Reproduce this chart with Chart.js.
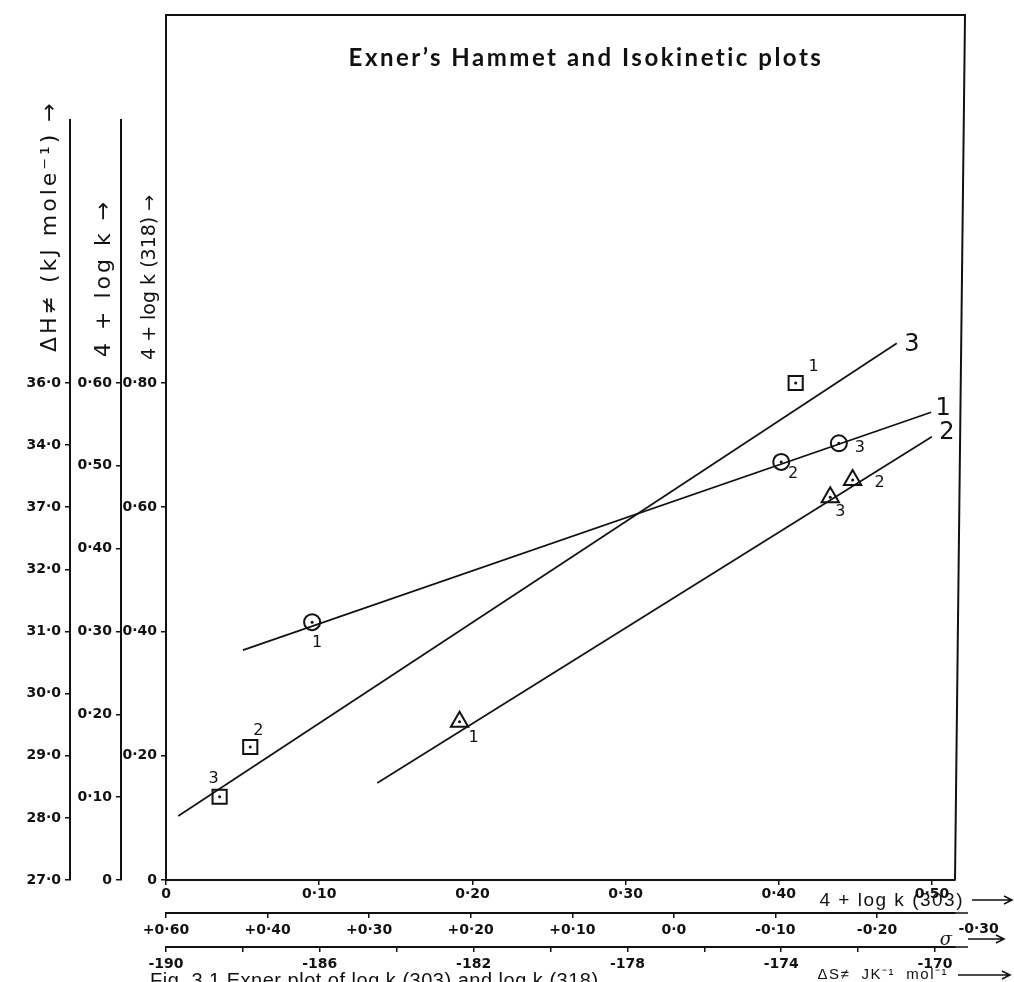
<!DOCTYPE html>
<html>
<head>
<meta charset="utf-8">
<script src="https://cdn.jsdelivr.net/npm/chart.js@4.4.1/dist/chart.umd.min.js"></script>
<style>
  html, body { margin: 0; padding: 0; background: #fff; }
  canvas { display: block; }
</style>
</head>
<body>
<canvas id="chart" width="1014" height="982"></canvas>
<script>
// Exner, Hammett and isokinetic plots, redrawn from a scanned hand-drawn figure

// circles: dH against dS (isokinetic)
const circle_ids = ["1", "2", "3"];
const circle_ds = [-186.2, -174.0, -172.5];
const circle_dh = [31.15, 33.73, 34.03];
const circle_fit_ds = [-188.0, -170.1];
const circle_fit_dh = [30.70, 34.53];

// squares: log k (318) against log k (303) (Exner)
const square_ids = ["1", "2", "3"];
const square_k303 = [0.411, 0.055, 0.035];
const square_k318 = [0.800, 0.214, 0.134];
const square_fit_k303 = [0.008, 0.477];
const square_fit_k318 = [0.103, 0.864];

// triangles: log k against sigma (Hammett)
const tri_ids = ["1", "2", "3"];
const tri_sigma = [0.211, -0.176, -0.154];
const tri_logk = [0.191, 0.483, 0.462];
const tri_fit_sigma = [0.292, -0.254];
const tri_fit_logk = [0.117, 0.535];

// tick values, and the labels as they are written on the figure
const k303_ticks = [0, 0.1, 0.2, 0.3, 0.4, 0.5];
const k303_labels = ["0", "0·10", "0·20", "0·30", "0·40", "0·50"];
const sigma_ticks = [0.5, 0.4, 0.3, 0.2, 0.1, 0, -0.1, -0.2];
const sigma_labels = ["+0·60", "+0·40", "+0·30", "+0·20", "+0·10", "0·0", "-0·10", "-0·20"];
const sigma_extra = -0.3;
const sigma_extra_label = "-0·30";
const ds_ticks = [-190, -188, -186, -184, -182, -180, -178, -176, -174, -172, -170];
const ds_labels = ["-190", "", "-186", "", "-182", "", "-178", "", "-174", "", "-170"];
const dh_ticks = [27, 28, 29, 30, 31, 32, 33, 34, 35];
const dh_labels = ["27·0", "28·0", "29·0", "30·0", "31·0", "32·0", "37·0", "34·0", "36·0"];
const logk_ticks = [0, 0.1, 0.2, 0.3, 0.4, 0.5, 0.6];
const logk_labels = ["0", "0·10", "0·20", "0·30", "0·40", "0·50", "0·60"];
const k318_ticks = [0, 0.2, 0.4, 0.6, 0.8];
const k318_labels = ["0", "0·20", "0·40", "0·60", "0·80"];

const ink = "#111";
const hand = { family: "DejaVu Sans", size: 14, weight: "bold" };

// pair two arrays into {x, y} points
function zip(xs, ys) {
  return xs.map((x, i) => ({ x: x, y: ys[i] }));
}

// an axis with fixed ticks and a fixed thickness, so the stacked axes land where the figure has them
function axis(pos, weight, min, max, values, labels, size, extra) {
  return Object.assign({
    type: "linear",
    position: pos,
    weight: weight,
    min: min,
    max: max,
    afterBuildTicks: (s) => { s.ticks = values.map((v) => ({ value: v })); },
    afterFit: (s) => { if (pos === "left") s.width = size; else s.height = size; },
    border: { display: true, color: ink, width: 2 },
    grid: { display: true, drawOnChartArea: false, color: ink, lineWidth: 1.5, tickLength: 5 },
    ticks: { autoSkip: false, maxRotation: 0, padding: 4, font: hand, color: ink,
             callback: (v, i) => labels[i] }
  }, extra || {});
}

function fit_line(data, x, y) {
  return { data: data, xAxisID: x, yAxisID: y, showLine: true, pointRadius: 0,
           borderColor: ink, borderWidth: 1.7 };
}

function markers(data, x, y, style, r, ids, offsets) {
  return { data: data, xAxisID: x, yAxisID: y, pointStyle: style, pointRadius: r,
           borderColor: ink, borderWidth: 2, backgroundColor: "rgba(0,0,0,0)",
           ids: ids, offsets: offsets };
}

function dots(data, x, y) {
  return { data: data, xAxisID: x, yAxisID: y, pointRadius: 1.5, borderWidth: 0,
           backgroundColor: ink };
}

// text with a bit of extra letter spacing, as the scan is wider than the fonts here
function spaced(ctx, text, x, y, font, gap) {
  ctx.font = font;
  ctx.letterSpacing = gap + "px";
  ctx.fillText(text, x, y);
  ctx.letterSpacing = "0px";
}

// rotated handwritten axis title, read bottom to top
function vtext(ctx, text, x, y, font, gap) {
  ctx.save();
  ctx.translate(x, y);
  ctx.rotate(-Math.PI / 2);
  ctx.textAlign = "left";
  ctx.textBaseline = "middle";
  spaced(ctx, text, 0, 0, font, gap);
  ctx.restore();
}

function arrow(ctx, x1, x2, y) {
  ctx.beginPath();
  ctx.moveTo(x1, y);
  ctx.lineTo(x2, y);
  ctx.moveTo(x2 - 8, y - 4);
  ctx.lineTo(x2, y);
  ctx.lineTo(x2 - 8, y + 4);
  ctx.stroke();
}

// substituent numbers next to each marker, and the line numbers at the line ends
const id_plugin = {
  id: "ids",
  afterDatasetsDraw(chart) {
    const ctx = chart.ctx;
    ctx.save();
    ctx.fillStyle = ink;
    ctx.textAlign = "center";
    ctx.textBaseline = "middle";
    chart.data.datasets.forEach((d, i) => {
      if (!d.ids && !d.end) return;
      const pts = chart.getDatasetMeta(i).data;
      if (d.ids) {
        ctx.font = "16px DejaVu Sans";
        pts.forEach((p, j) => ctx.fillText(d.ids[j], p.x + d.offsets[j][0], p.y + d.offsets[j][1]));
      }
      if (d.end) {
        const p = pts[pts.length - 1];
        ctx.font = "24px DejaVu Sans";
        ctx.fillText(d.end, p.x + d.end_off[0], p.y + d.end_off[1]);
      }
    });
    ctx.restore();
  }
};

// the frame above the plot, the title and the axis captions
const decor_plugin = {
  id: "decor",
  afterDraw(chart) {
    const { ctx, chartArea: a, scales } = chart;
    ctx.save();
    ctx.strokeStyle = ink;
    ctx.fillStyle = ink;
    ctx.lineWidth = 2;
    ctx.beginPath();
    ctx.moveTo(a.left, a.top);
    ctx.lineTo(a.left, 15);
    ctx.lineTo(a.right + 10, 15);
    ctx.lineTo(a.right, a.bottom);
    ctx.stroke();

    // sigma and dS lines run a little past the frame
    ctx.lineWidth = 1.5;
    ctx.beginPath();
    ctx.moveTo(a.right, scales.xs.top);
    ctx.lineTo(a.right + 13, scales.xs.top);
    ctx.moveTo(a.right, scales.xd.top);
    ctx.lineTo(a.right + 13, scales.xd.top);
    ctx.stroke();

    ctx.textAlign = "center";
    ctx.textBaseline = "middle";
    spaced(ctx, "Exner’s Hammet and Isokinetic plots", 586, 58, "bold 24px Lato", 2.5);

    vtext(ctx, "ΔH≠ (kJ mole⁻¹) →", 50, 352, "22px DejaVu Sans", 3);
    vtext(ctx, "4 + log k →", 104, 357, "22px DejaVu Sans", 3);
    vtext(ctx, "4 + log k (318) →", 150, 360, "19px DejaVu Sans", 0);

    ctx.textAlign = "right";
    spaced(ctx, "4 + log k (303)", 964, 901, "19px Liberation Sans", 1.5);
    arrow(ctx, 972, 1012, 900);

    spaced(ctx, "ΔS≠  JK⁻¹  mol⁻¹", 948, 975, "15px Liberation Sans", 1.5);
    arrow(ctx, 958, 1010, 975);

    ctx.textAlign = "center";
    ctx.font = "bold 14px DejaVu Sans";
    ctx.fillText(sigma_extra_label, scales.xs.getPixelForValue(sigma_extra), 929);
    ctx.font = "italic 18px DejaVu Serif";
    ctx.fillText("σ", 946, 940);
    ctx.lineWidth = 1.5;
    arrow(ctx, 968, 1004, 939);

    ctx.textAlign = "left";
    ctx.textBaseline = "top";
    spaced(ctx, "Fig. 3.1 Exner plot of log k (303) and log k (318)", 150, 971, "20px Liberation Sans", 0.5);
    ctx.restore();
  }
};

const circle_line = fit_line(zip(circle_fit_ds, circle_fit_dh), "xd", "yh");
circle_line.end = "1"; circle_line.end_off = [12, -3];
const square_line = fit_line(zip(square_fit_k303, square_fit_k318), "x", "yq");
square_line.end = "3"; square_line.end_off = [15, 2];
const tri_line = fit_line(zip(tri_fit_sigma, tri_fit_logk), "xs", "yk");
tri_line.end = "2"; tri_line.end_off = [15, -4];

const config = {
  type: "scatter",
  data: {
    datasets: [
      circle_line, square_line, tri_line,
      markers(zip(circle_ds, circle_dh), "xd", "yh", "circle", 8, circle_ids,
              [[5, 21], [12, 12], [21, 5]]),
      markers(zip(square_k303, square_k318), "x", "yq", "rect", 10, square_ids,
              [[18, -16], [8, -16], [-6, -18]]),
      markers(zip(tri_sigma, tri_logk), "xs", "yk", "triangle", 10, tri_ids,
              [[14, 16], [27, 3], [10, 15]]),
      dots(zip(circle_ds, circle_dh), "xd", "yh"),
      dots(zip(square_k303, square_k318), "x", "yq"),
      dots(zip(tri_sigma, tri_logk), "xs", "yk")
    ]
  },
  options: {
    responsive: false,
    animation: false,
    layout: { padding: { top: 120, right: 59, bottom: 5, left: 0 } },
    plugins: { legend: { display: false }, tooltip: { enabled: false } },
    scales: {
      x: axis("bottom", 0, 0, 0.515, k303_ticks, k303_labels, 33,
              { ticks: { autoSkip: false, maxRotation: 0, padding: 1, font: hand, color: ink,
                         callback: (v, i) => k303_labels[i] } }),
      xs: axis("bottom", 1, -0.2768, 0.5, sigma_ticks, sigma_labels, 34, { reverse: true }),
      xd: axis("bottom", 2, -190, -169.48, ds_ticks, ds_labels, 30),
      yq: axis("left", 0, 0, 1.2233, k318_ticks, k318_labels, 45),
      yk: axis("left", 1, 0, 0.9175, logk_ticks, logk_labels, 51),
      yh: axis("left", 2, 27, 39.233, dh_ticks, dh_labels, 70)
    }
  },
  plugins: [id_plugin, decor_plugin]
};

new Chart(document.getElementById("chart").getContext("2d"), config);
</script>
</body>
</html>
